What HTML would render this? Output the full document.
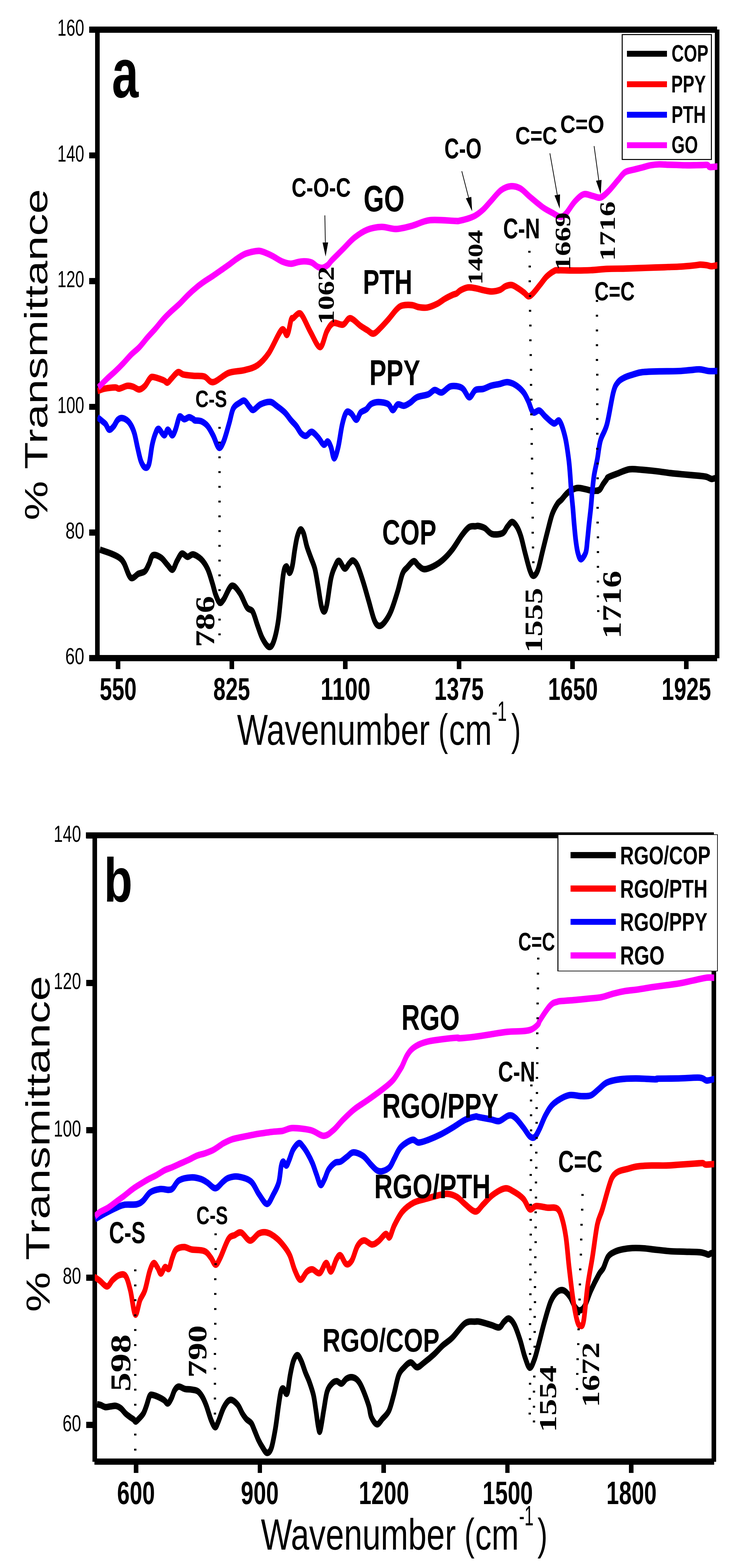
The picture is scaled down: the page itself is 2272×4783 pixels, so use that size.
<!DOCTYPE html><html><head><meta charset="utf-8"><style>html,body{margin:0;padding:0;background:#fff}svg{display:block}svg rect{shape-rendering:crispEdges}</style></head><body><svg width="2272" height="4783" viewBox="0 0 2272 4783"><defs><clipPath id="clipA"><rect x="297" y="0" width="1890.6" height="2100"/></clipPath><clipPath id="clipB"><rect x="289" y="2500" width="1889" height="2000"/></clipPath></defs><rect x="272.0" y="81.0" width="1915.0" height="19.0" fill="#000"/><rect x="290.2" y="81.0" width="13.9" height="1936.0" fill="#000"/><rect x="272.0" y="1998.2" width="1915.0" height="18.8" fill="#000"/><rect x="2180.3" y="89.6" width="13.7" height="1918.2" fill="#000"/><rect x="272.0" y="81.3" width="19.0" height="18.6" fill="#000"/><rect x="272.0" y="464.7" width="19.0" height="18.6" fill="#000"/><rect x="272.0" y="848.1" width="19.0" height="18.6" fill="#000"/><rect x="272.0" y="1231.5" width="19.0" height="18.6" fill="#000"/><rect x="272.0" y="1614.9" width="19.0" height="18.6" fill="#000"/><rect x="272.0" y="1998.3" width="19.0" height="18.6" fill="#000"/><rect x="353.0" y="2017.0" width="14.0" height="23.7" fill="#000"/><rect x="699.6" y="2017.0" width="14.0" height="23.7" fill="#000"/><rect x="1046.2" y="2017.0" width="14.0" height="23.7" fill="#000"/><rect x="1392.8" y="2017.0" width="14.0" height="23.7" fill="#000"/><rect x="1739.4" y="2017.0" width="14.0" height="23.7" fill="#000"/><rect x="2086.1" y="2017.0" width="14.0" height="23.7" fill="#000"/><rect x="262.0" y="2538.7" width="1915.0" height="18.3" fill="#000"/><rect x="282.4" y="2538.7" width="13.6" height="1920.1" fill="#000"/><rect x="288.0" y="4449.0" width="1890.0" height="18.9" fill="#000"/><rect x="2170.0" y="2548.0" width="14.0" height="1910.8" fill="#000"/><rect x="262.7" y="2539.0" width="20.3" height="19.0" fill="#000"/><rect x="262.7" y="2988.5" width="20.3" height="19.0" fill="#000"/><rect x="262.7" y="3438.0" width="20.3" height="19.0" fill="#000"/><rect x="262.7" y="3887.5" width="20.3" height="19.0" fill="#000"/><rect x="262.7" y="4337.0" width="20.3" height="19.0" fill="#000"/><rect x="408.0" y="4467.6" width="13.6" height="25.0" fill="#000"/><rect x="785.6" y="4467.6" width="13.6" height="25.0" fill="#000"/><rect x="1163.1" y="4467.6" width="13.6" height="25.0" fill="#000"/><rect x="1540.6" y="4467.6" width="13.6" height="25.0" fill="#000"/><rect x="1918.2" y="4467.6" width="13.6" height="25.0" fill="#000"/><g clip-path="url(#clipA)"><g transform="scale(1,1.4)"><path d="M304.7,1197.5 C310.4,1199.0 329.2,1203.3 339.0,1206.2 C348.8,1209.1 357.0,1211.5 363.5,1215.0 C370.0,1218.5 372.3,1219.9 378.2,1227.2 C384.1,1234.5 391.4,1255.0 398.8,1258.8 C406.2,1262.6 415.2,1252.3 422.4,1250.0 C429.6,1247.7 436.7,1248.2 442.0,1244.7 C447.3,1241.2 450.1,1234.8 454.2,1229.0 C458.3,1223.2 460.4,1212.0 466.5,1209.7 C472.6,1207.4 483.6,1211.5 491.0,1215.0 C498.4,1218.5 504.7,1226.3 510.6,1230.7 C516.5,1235.1 521.4,1242.7 526.3,1241.2 C531.2,1239.8 535.3,1227.8 540.0,1222.0 C544.7,1216.2 549.4,1207.7 554.7,1206.2 C560.0,1204.8 566.2,1212.9 571.9,1213.2 C577.6,1213.5 582.1,1207.1 589.0,1208.0 C595.9,1208.9 606.1,1213.3 613.5,1218.5 C620.9,1223.8 627.4,1230.8 633.1,1239.5 C638.8,1248.2 643.7,1261.7 647.8,1271.0 C651.9,1280.3 653.9,1288.5 657.6,1295.5 C661.3,1302.5 665.8,1311.3 669.9,1313.0 C674.0,1314.8 676.1,1312.1 682.2,1306.0 C688.3,1299.9 698.5,1278.6 706.7,1276.3 C714.9,1274.0 723.5,1284.1 731.2,1292.0 C739.0,1299.9 746.7,1316.8 753.2,1323.5 C759.7,1330.2 765.1,1325.9 770.4,1332.3 C775.7,1338.7 780.2,1352.4 785.1,1362.1 C790.0,1371.7 794.1,1382.2 799.8,1390.1 C805.5,1397.9 813.7,1407.8 819.4,1409.3 C825.1,1410.7 829.2,1408.4 834.1,1398.8 C839.0,1389.2 843.9,1375.8 848.8,1351.6 C853.7,1327.4 859.4,1273.1 863.5,1253.5 C867.6,1233.9 870.0,1235.1 873.3,1234.2 C876.6,1233.3 880.0,1248.5 883.1,1248.2 C886.2,1247.9 889.1,1241.0 891.7,1232.5 C894.4,1224.0 896.5,1208.0 899.0,1197.5 C901.5,1187.0 903.5,1176.8 906.4,1169.5 C909.3,1162.2 912.9,1154.9 916.2,1153.7 C919.5,1152.5 922.7,1156.4 926.0,1162.5 C929.3,1168.6 932.1,1181.8 935.8,1190.5 C939.5,1199.2 943.9,1206.8 948.0,1215.0 C952.1,1223.2 956.6,1229.0 960.3,1239.5 C964.0,1250.0 966.8,1264.6 970.1,1278.0 C973.4,1291.4 976.8,1311.0 979.9,1320.0 C983.0,1329.0 985.8,1332.9 988.7,1332.3 C991.6,1331.7 993.7,1328.5 997.1,1316.5 C1000.5,1304.5 1005.2,1274.2 1009.3,1260.5 C1013.4,1246.8 1017.5,1240.6 1021.6,1234.2 C1025.7,1227.8 1028.9,1221.2 1033.8,1222.0 C1038.7,1222.8 1045.7,1237.9 1051.0,1238.8 C1056.3,1239.7 1061.5,1230.1 1065.7,1227.2 C1070.0,1224.3 1072.4,1220.4 1076.5,1221.3 C1080.6,1222.2 1085.0,1224.8 1090.2,1232.5 C1095.4,1240.2 1101.7,1254.7 1107.4,1267.5 C1113.1,1280.3 1118.8,1295.5 1124.5,1309.5 C1130.2,1323.5 1136.4,1342.5 1141.7,1351.6 C1147.0,1360.6 1151.1,1363.2 1156.4,1363.8 C1161.7,1364.4 1167.4,1360.6 1173.5,1355.1 C1179.6,1349.5 1186.6,1341.6 1193.1,1330.5 C1199.6,1319.4 1207.0,1301.9 1212.7,1288.5 C1218.4,1275.1 1222.6,1258.8 1227.5,1250.0 C1232.4,1241.2 1236.5,1240.5 1242.2,1236.0 C1247.9,1231.5 1256.1,1223.3 1261.8,1222.7 C1267.5,1222.1 1271.2,1229.6 1276.5,1232.5 C1281.8,1235.4 1286.2,1239.9 1293.6,1240.2 C1300.9,1240.5 1311.2,1237.5 1320.6,1234.2 C1330.0,1230.9 1340.2,1226.3 1350.0,1220.2 C1359.8,1214.1 1369.6,1206.5 1379.4,1197.5 C1389.2,1188.5 1400.2,1174.2 1408.8,1166.0 C1417.4,1157.8 1424.0,1151.6 1430.9,1148.4 C1437.8,1145.2 1445.3,1147.1 1450.0,1146.7 C1454.7,1146.3 1454.1,1145.4 1458.8,1146.0 C1463.5,1146.6 1471.5,1147.7 1478.4,1150.6 C1485.4,1153.5 1491.5,1161.6 1500.5,1163.5 C1509.5,1165.4 1524.6,1164.4 1532.4,1161.8 C1540.2,1159.2 1542.2,1151.9 1547.1,1147.8 C1552.0,1143.7 1556.9,1137.3 1561.8,1137.3 C1566.7,1137.3 1572.0,1142.5 1576.5,1147.8 C1581.0,1153.0 1584.6,1159.5 1588.7,1168.8 C1592.8,1178.1 1596.5,1191.5 1601.0,1203.8 C1605.5,1216.0 1611.5,1233.8 1615.7,1242.3 C1620.0,1250.8 1622.4,1254.6 1626.5,1254.6 C1630.6,1254.6 1635.5,1251.3 1640.2,1242.3 C1644.9,1233.2 1650.0,1214.3 1654.9,1200.3 C1659.8,1186.3 1664.7,1171.7 1669.6,1158.3 C1674.5,1144.9 1679.2,1129.8 1684.3,1119.7 C1689.4,1109.6 1695.3,1102.7 1700.0,1097.6 C1704.7,1092.4 1708.3,1092.0 1712.4,1088.7 C1716.5,1085.5 1720.7,1081.2 1724.8,1078.1 C1728.9,1075.0 1732.1,1072.4 1737.3,1070.1 C1742.5,1067.7 1750.7,1065.0 1755.9,1063.9 C1761.1,1062.8 1763.1,1063.1 1768.3,1063.4 C1773.5,1063.8 1780.8,1065.1 1787.0,1066.1 C1793.2,1067.0 1799.8,1068.8 1805.6,1069.2 C1811.4,1069.7 1817.6,1069.4 1821.7,1068.8 C1825.8,1068.2 1827.5,1067.9 1830.4,1065.6 C1833.3,1063.3 1835.8,1058.6 1839.1,1055.0 C1842.4,1051.4 1847.4,1046.8 1850.0,1044.3 C1852.6,1041.8 1849.0,1042.1 1854.7,1039.9 C1860.4,1037.8 1873.3,1034.4 1884.1,1031.5 C1894.9,1028.6 1907.2,1023.8 1919.4,1022.5 C1931.7,1021.2 1943.9,1022.9 1957.6,1023.6 C1971.3,1024.3 1987.1,1025.5 2001.8,1026.7 C2016.5,1027.9 2031.2,1029.6 2045.9,1030.9 C2060.6,1032.1 2075.3,1033.0 2090.0,1034.0 C2104.7,1035.0 2123.3,1036.0 2134.1,1036.8 C2144.9,1037.6 2148.8,1037.7 2154.7,1038.9 C2160.6,1040.0 2165.0,1043.0 2169.4,1043.5 C2173.8,1044.0 2177.4,1042.2 2181.2,1042.0 C2185.0,1041.8 2190.2,1042.0 2192.0,1042.0" fill="none" stroke="#000000" stroke-width="14.2" stroke-linejoin="round" stroke-linecap="butt"/></g></g><g clip-path="url(#clipA)"><g transform="scale(1,1.4)"><path d="M297.4,852.1 C301.1,851.2 310.4,848.1 319.4,846.8 C328.4,845.5 343.9,844.2 351.3,844.2 C358.7,844.2 357.4,847.4 363.5,846.8 C369.6,846.2 381.1,841.4 388.0,840.7 C394.9,840.0 399.1,841.1 405.2,842.4 C411.3,843.7 418.7,848.9 424.8,848.6 C430.9,848.3 436.7,844.7 442.0,840.7 C447.3,836.8 452.6,828.1 456.7,824.9 C460.8,821.7 459.6,820.8 466.5,821.4 C473.4,822.0 490.9,826.4 498.3,828.4 C505.7,830.5 506.5,834.3 510.6,833.7 C514.7,833.1 517.5,828.7 522.8,824.9 C528.1,821.1 536.4,812.4 542.5,810.9 C548.6,809.5 551.7,814.8 559.6,816.1 C567.5,817.5 579.4,818.1 590.0,818.8 C600.6,819.5 613.2,818.0 623.3,820.4 C633.3,822.7 638.0,833.9 650.3,832.6 C662.6,831.4 681.0,817.0 696.9,812.6 C712.8,808.3 731.2,809.2 745.9,806.4 C760.6,803.6 772.9,802.0 785.1,795.9 C797.4,789.7 807.1,782.5 819.4,769.6 C831.6,756.8 849.2,725.6 858.6,718.9 C868.0,712.1 870.9,733.2 875.8,729.4 C880.7,725.6 885.0,702.1 888.0,696.1 C891.0,690.1 890.2,695.5 894.1,693.3 C898.0,691.1 906.4,683.4 911.3,682.8 C916.2,682.2 917.4,682.8 923.5,689.8 C929.6,696.8 939.2,713.7 948.0,724.8 C956.8,735.9 968.3,756.9 976.5,756.3 C984.7,755.7 990.4,730.0 997.1,721.3 C1003.8,712.5 1008.5,706.1 1016.7,703.8 C1024.9,701.5 1037.5,709.0 1046.1,707.3 C1054.7,705.5 1059.1,692.8 1068.1,693.3 C1077.1,693.8 1091.4,706.0 1100.0,710.3 C1108.6,714.6 1113.1,716.3 1119.6,719.1 C1126.1,721.8 1132.2,727.8 1139.2,726.9 C1146.2,726.0 1153.5,719.2 1161.3,713.8 C1169.1,708.4 1177.6,701.3 1185.8,694.6 C1194.0,687.9 1203.3,678.3 1210.3,673.5 C1217.2,668.7 1219.7,667.1 1227.5,665.6 C1235.3,664.2 1248.7,664.2 1256.9,664.8 C1265.1,665.4 1268.8,668.3 1276.5,669.1 C1284.2,670.0 1294.0,671.2 1303.4,670.0 C1312.8,668.8 1323.8,665.3 1332.8,662.1 C1341.8,658.9 1349.2,654.1 1357.4,650.8 C1365.6,647.4 1376.1,643.9 1381.9,642.0 C1387.8,640.1 1388.7,641.0 1392.5,639.4 C1396.3,637.8 1399.0,634.6 1404.7,632.4 C1410.4,630.2 1419.0,627.0 1426.8,626.3 C1434.6,625.6 1443.1,627.0 1451.3,628.1 C1459.5,629.1 1467.6,631.3 1475.8,632.4 C1484.0,633.6 1492.1,635.2 1500.3,635.1 C1508.5,634.9 1517.8,633.5 1524.8,631.6 C1531.8,629.7 1535.9,625.4 1542.0,623.6 C1548.1,621.9 1555.1,620.2 1561.6,621.1 C1568.1,622.0 1575.1,626.2 1581.2,628.9 C1587.3,631.7 1593.2,634.9 1598.3,637.6 C1603.4,640.4 1607.3,645.3 1611.8,645.6 C1616.3,645.9 1619.4,643.7 1625.3,639.4 C1631.2,635.2 1640.5,626.3 1647.4,620.1 C1654.4,614.0 1659.9,607.6 1667.0,602.6 C1674.1,597.7 1683.8,592.7 1690.0,590.4 C1696.2,588.1 1693.9,589.0 1704.5,588.9 C1715.1,588.7 1737.2,589.4 1753.5,589.4 C1769.8,589.3 1786.2,589.3 1802.5,588.7 C1818.8,588.1 1835.2,586.4 1851.6,585.9 C1867.9,585.3 1884.3,585.6 1900.6,585.4 C1916.9,585.1 1933.2,584.5 1949.6,584.1 C1966.0,583.7 1984.4,583.3 1999.2,582.9 C2014.0,582.6 2025.3,582.3 2038.4,581.9 C2051.5,581.6 2064.5,581.4 2077.6,580.8 C2090.7,580.2 2107.1,579.0 2116.9,578.3 C2126.7,577.6 2130.0,576.7 2136.5,576.6 C2143.0,576.6 2150.5,577.4 2156.1,578.0 C2161.7,578.6 2164.6,580.1 2169.8,580.1 C2175.0,580.1 2183.8,578.4 2187.5,578.0 C2191.2,577.6 2191.2,578.0 2192.0,578.0" fill="none" stroke="#ff0000" stroke-width="14.2" stroke-linejoin="round" stroke-linecap="butt"/></g></g><g clip-path="url(#clipA)"><g transform="scale(1,1.4)"><path d="M297.4,909.1 C299.8,910.5 308.0,915.4 312.1,917.9 C316.2,920.3 318.4,920.9 321.9,923.9 C325.4,927.0 328.8,935.3 332.9,936.2 C337.0,937.1 342.1,932.7 346.4,929.2 C350.7,925.7 354.5,918.3 358.6,915.2 C362.7,912.1 366.0,910.6 370.9,910.8 C375.8,910.9 383.1,913.3 388.0,916.1 C392.9,918.8 396.6,922.6 400.3,927.4 C404.0,932.2 406.8,936.8 410.1,944.9 C413.4,953.1 416.6,966.6 419.9,976.5 C423.2,986.4 426.0,997.5 429.7,1004.5 C433.4,1011.5 437.9,1017.3 442.0,1018.5 C446.1,1019.7 450.5,1019.7 454.2,1011.5 C457.9,1003.3 460.7,980.6 464.0,969.5 C467.3,958.4 470.5,950.8 473.8,944.9 C477.1,939.1 479.1,933.8 483.6,934.4 C488.1,935.0 496.1,948.1 500.8,948.4 C505.5,948.7 507.7,936.2 511.8,936.2 C515.9,936.2 521.4,948.4 525.3,948.4 C529.2,948.4 531.8,942.3 535.1,936.2 C538.4,930.1 542.5,916.5 544.9,911.7 C547.3,906.9 546.9,907.0 549.8,907.3 C552.7,907.6 557.6,913.1 562.1,913.4 C566.6,913.7 572.1,909.1 576.8,909.1 C581.4,909.1 587.1,912.3 590.0,913.4 C592.9,914.6 590.0,915.3 593.9,916.0 C597.8,916.7 607.0,915.7 613.5,917.7 C620.0,919.8 627.0,923.0 633.1,928.2 C639.2,933.5 644.6,941.3 650.3,949.2 C656.0,957.1 662.2,973.5 667.5,975.5 C672.8,977.5 676.9,970.5 682.2,961.5 C687.5,952.5 694.4,933.2 699.3,921.2 C704.2,909.2 706.3,897.0 711.6,889.7 C716.9,882.4 725.5,880.2 731.2,877.4 C736.9,874.7 741.0,871.8 745.9,873.2 C750.8,874.7 756.1,882.9 760.6,886.2 C765.1,889.5 767.1,894.1 772.8,893.2 C778.5,892.3 786.3,883.8 794.9,880.9 C803.5,878.0 816.1,875.1 824.3,875.7 C832.5,876.3 836.5,880.6 843.9,884.4 C851.2,888.2 861.0,893.2 868.4,898.4 C875.8,903.7 882.1,911.0 888.0,916.0 C893.9,921.0 898.8,923.8 903.9,928.6 C909.0,933.3 913.7,940.9 918.6,944.4 C923.5,947.9 928.0,950.2 933.3,949.6 C938.6,949.0 944.4,940.3 950.5,940.9 C956.6,941.4 964.0,948.4 970.1,953.1 C976.2,957.7 982.4,967.4 987.3,968.9 C992.2,970.3 995.8,961.0 999.5,961.9 C1003.2,962.7 1006.0,968.0 1009.3,974.1 C1012.6,980.2 1015.4,998.6 1019.1,998.6 C1022.8,998.6 1027.3,986.3 1031.4,974.1 C1035.5,961.8 1039.5,937.6 1043.6,925.1 C1047.7,912.5 1051.4,902.9 1055.9,898.8 C1060.4,894.7 1065.4,897.9 1070.6,900.6 C1075.8,903.2 1081.9,914.9 1086.8,914.6 C1091.7,914.3 1094.9,902.6 1100.0,898.8 C1105.1,895.0 1111.9,894.9 1117.2,891.8 C1122.5,888.7 1125.8,882.9 1131.9,880.3 C1138.0,877.7 1145.3,876.1 1153.9,876.1 C1162.5,876.1 1176.0,877.4 1183.3,880.3 C1190.6,883.2 1193.1,893.4 1198.0,893.6 C1202.9,893.7 1207.0,882.9 1212.7,881.3 C1218.4,879.7 1225.9,884.8 1232.4,884.1 C1239.0,883.3 1245.5,879.9 1252.0,876.8 C1258.5,873.7 1262.6,868.5 1271.6,865.6 C1280.6,862.6 1296.9,861.8 1305.9,859.2 C1314.9,856.6 1318.6,850.5 1325.5,849.8 C1332.4,849.1 1339.3,856.4 1347.5,855.1 C1355.7,853.7 1364.3,843.4 1374.5,841.7 C1384.7,840.1 1399.4,841.2 1408.8,845.2 C1418.2,849.2 1424.0,864.8 1430.9,865.6 C1437.8,866.3 1442.9,852.8 1450.0,849.8 C1457.1,846.8 1465.5,848.9 1473.5,847.4 C1481.5,845.8 1489.8,842.1 1498.0,840.4 C1506.2,838.6 1514.3,838.1 1522.5,836.9 C1530.7,835.6 1538.9,832.4 1547.1,832.6 C1555.3,832.9 1563.4,835.0 1571.6,838.6 C1579.8,842.2 1589.6,848.5 1596.1,854.4 C1602.6,860.2 1605.9,866.3 1610.8,873.6 C1615.7,880.9 1619.8,894.6 1625.5,898.1 C1631.2,901.7 1638.6,892.9 1645.1,894.6 C1651.6,896.4 1657.3,904.0 1664.7,908.6 C1672.1,913.3 1682.2,921.2 1689.2,922.6 C1696.2,924.1 1700.7,912.4 1706.4,917.4 C1712.1,922.3 1718.9,938.6 1723.5,952.4 C1728.1,966.1 1731.7,986.1 1734.2,1000.0 C1736.8,1013.9 1737.5,1023.7 1738.8,1035.5 C1740.1,1047.3 1740.8,1059.2 1742.2,1071.0 C1743.6,1082.8 1745.5,1094.6 1747.0,1106.4 C1748.5,1118.3 1749.5,1130.2 1751.0,1142.0 C1752.5,1153.8 1754.1,1167.1 1755.9,1177.4 C1757.8,1187.8 1759.5,1197.2 1762.1,1204.1 C1764.7,1210.9 1767.5,1218.6 1771.5,1218.6 C1775.5,1218.6 1783.0,1210.9 1786.3,1204.1 C1789.6,1197.2 1789.6,1187.8 1791.3,1177.4 C1793.0,1167.1 1794.5,1153.8 1796.3,1142.0 C1798.1,1130.2 1800.2,1118.3 1801.9,1106.4 C1803.6,1094.6 1804.6,1082.8 1806.2,1071.0 C1807.8,1059.2 1809.2,1047.3 1811.8,1035.5 C1814.4,1023.7 1818.4,1012.7 1821.7,1000.0 C1825.0,987.3 1826.5,972.0 1831.4,959.4 C1836.3,946.8 1844.5,941.9 1851.0,924.4 C1857.5,906.9 1864.9,869.7 1870.6,854.4 C1876.3,839.0 1879.3,837.8 1885.2,832.4 C1891.1,827.1 1898.2,825.0 1906.1,822.1 C1913.9,819.3 1923.6,817.4 1932.3,815.6 C1941.0,813.7 1945.3,812.0 1958.4,810.9 C1971.5,809.8 1993.3,809.4 2010.7,809.1 C2028.1,808.7 2047.8,809.1 2063.0,808.7 C2078.2,808.3 2090.4,807.3 2102.2,806.6 C2114.0,806.0 2123.6,804.5 2133.6,804.8 C2143.6,805.1 2153.5,807.9 2162.4,808.5 C2171.3,809.1 2182.3,808.3 2187.2,808.3 C2192.1,808.2 2191.2,808.3 2192.0,808.3" fill="none" stroke="#0000ff" stroke-width="14.2" stroke-linejoin="round" stroke-linecap="butt"/></g></g><g clip-path="url(#clipA)"><g transform="scale(1,1.4)"><path d="M299.8,844.2 C304.3,841.0 318.2,830.8 326.8,824.9 C335.4,819.1 343.1,814.7 351.3,809.1 C359.5,803.6 367.6,797.8 375.8,791.6 C384.0,785.5 392.1,778.3 400.3,772.4 C408.5,766.6 416.6,762.8 424.8,756.6 C433.0,750.5 441.1,742.4 449.3,735.6 C457.5,728.9 465.6,723.1 473.8,716.4 C482.0,709.6 490.1,701.8 498.3,695.4 C506.5,688.9 514.6,683.4 522.8,677.9 C531.0,672.3 538.8,668.1 547.4,662.1 C556.0,656.2 565.9,648.0 574.5,642.1 C583.1,636.1 590.8,631.2 599.0,626.4 C607.2,621.5 615.3,617.3 623.5,613.2 C631.7,609.1 639.8,605.7 648.0,601.8 C656.2,597.8 664.3,593.7 672.5,589.6 C680.7,585.5 688.9,581.5 697.1,577.3 C705.3,573.1 713.4,568.2 721.6,564.2 C729.8,560.3 737.9,556.3 746.1,553.6 C754.3,551.0 763.2,549.6 770.6,548.4 C778.0,547.3 784.1,546.4 790.2,546.6 C796.3,546.9 800.5,548.2 807.4,550.1 C814.3,552.0 823.2,554.9 831.9,558.1 C840.5,561.3 850.2,566.6 859.3,569.4 C868.4,572.1 878.1,574.3 886.3,574.6 C894.5,574.9 901.4,571.9 908.3,571.1 C915.2,570.2 920.9,569.2 927.9,569.4 C934.9,569.5 943.0,569.9 950.0,571.9 C957.0,574.0 963.9,579.7 969.6,581.6 C975.3,583.5 979.2,584.1 984.3,583.4 C989.4,582.6 995.4,579.9 1000.0,577.2 C1004.6,574.5 1004.1,573.0 1011.8,567.2 C1019.5,561.5 1034.7,550.9 1046.1,542.7 C1057.5,534.5 1068.2,525.2 1080.4,518.2 C1092.7,511.2 1105.7,504.7 1119.6,500.7 C1133.5,496.8 1149.0,494.7 1163.7,494.4 C1178.4,494.1 1192.3,499.3 1207.8,498.9 C1223.3,498.5 1239.7,495.1 1256.9,491.9 C1274.1,488.7 1288.8,481.5 1310.8,479.7 C1332.8,478.0 1374.3,481.2 1389.2,481.4 C1404.1,481.7 1394.1,481.8 1400.0,481.1 C1405.9,480.3 1416.3,478.7 1424.5,476.9 C1432.7,475.0 1440.8,473.2 1449.0,469.9 C1457.2,466.5 1465.3,462.0 1473.5,456.6 C1481.7,451.2 1489.0,444.4 1498.0,437.4 C1507.0,430.4 1517.7,419.8 1527.5,414.6 C1537.3,409.3 1547.1,406.5 1556.9,405.8 C1566.7,405.1 1576.5,406.6 1586.3,410.4 C1596.1,414.2 1604.3,421.7 1615.7,428.6 C1627.1,435.4 1643.5,445.5 1654.9,451.4 C1666.3,457.2 1675.3,460.1 1684.3,463.6 C1693.3,467.1 1701.8,472.1 1708.8,472.4 C1715.8,472.7 1718.7,470.9 1726.0,465.4 C1733.3,459.8 1743.9,446.1 1752.9,439.1 C1761.9,432.1 1770.9,425.3 1779.9,423.3 C1788.9,421.2 1798.3,425.6 1806.9,426.8 C1815.5,428.0 1823.2,432.1 1831.4,430.4 C1839.6,428.6 1846.9,422.7 1855.9,416.3 C1864.9,409.9 1876.9,398.6 1885.3,391.8 C1893.7,385.0 1898.3,379.0 1906.1,375.3 C1913.9,371.6 1923.6,371.4 1932.3,369.7 C1941.0,368.0 1949.7,366.6 1958.4,365.0 C1967.1,363.4 1975.9,361.1 1984.6,360.0 C1993.3,358.9 2002.0,358.3 2010.7,358.1 C2019.4,358.0 2028.2,358.6 2036.9,358.9 C2045.6,359.1 2054.3,359.2 2063.0,359.4 C2071.7,359.6 2080.5,360.0 2089.2,360.1 C2097.9,360.2 2106.6,360.1 2115.3,360.0 C2124.0,359.9 2134.4,359.7 2141.4,359.6 C2148.4,359.5 2153.6,358.8 2157.1,359.4 C2160.6,360.0 2160.7,362.6 2162.4,363.4 C2164.2,364.1 2163.5,364.2 2167.6,364.1 C2171.7,364.0 2183.3,363.0 2187.2,362.8 C2191.1,362.6 2190.4,362.8 2191.1,362.8" fill="none" stroke="#ff00ff" stroke-width="14.2" stroke-linejoin="round" stroke-linecap="butt"/></g></g><g clip-path="url(#clipB)"><g transform="scale(1,1.4)"><path d="M296.1,3059.7 C298.0,3060.0 302.9,3060.4 307.2,3061.4 C311.5,3062.5 316.6,3065.4 321.9,3065.9 C327.2,3066.3 333.7,3064.5 339.0,3064.1 C344.3,3063.6 348.8,3062.5 353.7,3063.2 C358.6,3063.9 363.5,3065.7 368.4,3068.4 C373.3,3071.2 378.6,3076.8 383.1,3079.9 C387.6,3082.9 391.3,3084.7 395.4,3086.9 C399.5,3089.0 404.5,3091.2 407.6,3092.9 C410.7,3094.7 411.3,3097.5 413.8,3097.4 C416.3,3097.2 418.5,3095.0 422.4,3092.1 C426.3,3089.2 433.0,3084.8 437.1,3079.9 C441.2,3074.9 443.6,3068.8 446.9,3062.4 C450.2,3055.9 453.4,3045.1 456.7,3041.3 C460.0,3037.5 461.6,3039.0 466.5,3039.6 C471.4,3040.2 480.4,3042.9 486.1,3044.8 C491.8,3046.7 496.5,3048.7 500.8,3050.9 C505.1,3053.1 508.1,3058.7 511.8,3057.9 C515.5,3057.2 519.3,3051.4 522.8,3046.6 C526.3,3041.8 528.9,3033.3 532.6,3029.1 C536.3,3024.8 539.6,3021.7 544.9,3021.2 C550.2,3020.8 558.6,3025.4 564.5,3026.4 C570.4,3027.4 573.7,3026.6 580.0,3027.3 C586.3,3028.0 596.0,3028.2 602.1,3030.8 C608.2,3033.4 612.3,3037.8 616.8,3043.1 C621.3,3048.3 624.5,3053.9 629.0,3062.4 C633.5,3070.8 639.2,3086.0 643.7,3093.9 C648.2,3101.7 652.3,3109.0 656.0,3109.6 C659.7,3110.2 661.3,3104.6 665.8,3097.4 C670.3,3090.1 676.8,3073.7 682.9,3065.9 C689.0,3058.0 695.5,3051.0 702.5,3050.1 C709.5,3049.2 718.5,3055.6 724.6,3060.6 C730.7,3065.5 734.8,3074.6 739.3,3079.9 C743.8,3085.1 747.1,3088.6 751.6,3092.1 C756.1,3095.6 762.2,3096.8 766.3,3100.9 C770.4,3104.9 772.4,3110.5 776.1,3116.6 C779.8,3122.7 784.2,3131.4 788.3,3137.6 C792.4,3143.7 796.3,3148.7 800.6,3153.4 C804.9,3158.0 809.6,3165.3 814.1,3165.6 C818.6,3165.9 823.2,3163.9 827.5,3155.1 C831.8,3146.4 836.1,3128.5 839.8,3113.1 C843.5,3097.6 846.7,3076.1 849.6,3062.4 C852.5,3048.6 854.5,3036.9 857.0,3030.8 C859.5,3024.7 861.8,3024.7 864.3,3025.6 C866.8,3026.5 869.5,3035.0 871.7,3036.1 C873.9,3037.2 875.2,3038.7 877.4,3032.2 C879.6,3025.7 881.9,3008.3 884.7,2997.2 C887.6,2986.1 890.8,2973.2 894.5,2965.7 C898.2,2958.3 902.7,2952.6 906.8,2952.6 C910.9,2952.6 914.9,2959.4 919.0,2965.7 C923.1,2972.0 927.2,2982.6 931.3,2990.2 C935.4,2997.8 939.4,3003.0 943.5,3011.2 C947.6,3019.4 952.5,3029.2 955.8,3039.2 C959.1,3049.2 960.6,3059.9 963.1,3071.4 C965.6,3083.0 968.4,3100.9 970.6,3108.6 C972.8,3116.2 973.7,3123.5 976.5,3117.3 C979.3,3111.1 984.1,3085.6 987.6,3071.4 C991.1,3057.2 993.4,3041.7 997.5,3032.2 C1001.6,3022.8 1007.3,3018.5 1012.2,3014.7 C1017.1,3010.9 1022.0,3009.4 1026.9,3009.4 C1031.8,3009.4 1036.7,3015.6 1041.6,3014.7 C1046.5,3013.8 1051.4,3006.5 1056.3,3004.2 C1061.2,3001.9 1066.1,3000.7 1071.0,3000.7 C1075.9,3000.7 1081.2,3001.9 1085.7,3004.2 C1090.2,3006.5 1093.8,3009.8 1097.9,3014.7 C1102.0,3019.7 1105.7,3025.8 1110.2,3033.9 C1114.7,3042.1 1121.2,3054.8 1124.9,3063.7 C1128.6,3072.6 1128.3,3080.9 1132.4,3087.5 C1136.5,3094.1 1143.8,3102.7 1149.5,3103.3 C1155.2,3103.9 1160.6,3096.0 1166.7,3091.1 C1172.8,3086.1 1180.6,3082.3 1186.3,3073.5 C1192.0,3064.7 1196.1,3051.3 1201.0,3038.5 C1205.9,3025.7 1210.4,3006.4 1215.7,2996.5 C1221.0,2986.6 1226.7,2983.7 1232.8,2979.0 C1238.9,2974.3 1246.0,2968.5 1252.5,2968.5 C1259.0,2968.5 1265.2,2979.0 1272.1,2979.0 C1279.0,2979.0 1285.5,2973.2 1294.1,2968.5 C1302.7,2963.8 1314.2,2957.1 1323.5,2951.0 C1332.8,2944.9 1340.7,2937.8 1350.0,2931.7 C1359.3,2925.6 1368.0,2922.7 1379.4,2914.6 C1390.8,2906.5 1406.8,2888.9 1418.6,2883.1 C1430.4,2877.2 1442.5,2880.1 1450.0,2879.6 C1457.5,2879.0 1455.7,2878.7 1463.7,2879.9 C1471.7,2881.2 1488.2,2884.9 1498.0,2886.9 C1507.8,2889.0 1516.0,2893.3 1522.5,2892.1 C1529.0,2891.0 1532.4,2883.1 1537.3,2879.9 C1542.2,2876.7 1546.7,2871.8 1552.0,2872.9 C1557.3,2874.1 1563.4,2879.1 1569.1,2886.9 C1574.8,2894.8 1581.0,2908.4 1586.3,2920.1 C1591.6,2931.9 1596.1,2947.3 1601.0,2957.3 C1605.9,2967.3 1610.8,2979.5 1615.7,2980.1 C1620.6,2980.7 1625.5,2970.4 1630.4,2960.8 C1635.3,2951.2 1640.2,2935.5 1645.1,2922.3 C1650.0,2909.1 1654.1,2896.0 1659.8,2881.6 C1665.5,2867.3 1672.9,2847.2 1679.4,2836.1 C1685.9,2825.1 1692.5,2819.2 1699.0,2815.1 C1705.5,2811.1 1712.1,2809.9 1718.6,2811.6 C1725.1,2813.4 1732.5,2819.8 1738.2,2825.6 C1743.9,2831.5 1748.2,2841.7 1752.9,2846.6 C1757.7,2851.6 1761.8,2855.4 1766.7,2855.4 C1771.6,2855.4 1776.5,2853.9 1782.4,2846.6 C1788.3,2839.4 1794.7,2823.3 1802.0,2811.6 C1809.3,2800.0 1820.2,2784.8 1826.5,2776.6 C1832.8,2768.5 1835.3,2769.5 1840.0,2763.0 C1844.7,2756.5 1848.8,2743.7 1854.7,2737.8 C1860.6,2731.8 1868.0,2729.9 1875.3,2727.3 C1882.6,2724.7 1890.0,2723.4 1898.8,2722.1 C1907.6,2720.8 1917.4,2719.7 1928.2,2719.4 C1939.0,2719.0 1951.2,2719.3 1963.5,2719.9 C1975.8,2720.6 1988.1,2722.1 2001.8,2723.1 C2015.5,2724.2 2031.2,2725.6 2045.9,2726.3 C2060.6,2727.0 2075.3,2726.9 2090.0,2727.3 C2104.7,2727.6 2123.8,2727.7 2134.1,2728.4 C2144.4,2729.1 2147.4,2730.6 2151.8,2731.5 C2156.2,2732.4 2157.7,2733.8 2160.6,2733.6 C2163.5,2733.5 2165.3,2731.0 2169.4,2730.4 C2173.5,2729.9 2182.4,2730.4 2185.0,2730.4" fill="none" stroke="#000000" stroke-width="14.2" stroke-linejoin="round" stroke-linecap="butt"/></g></g><g clip-path="url(#clipB)"><g transform="scale(1,1.4)"><path d="M287.4,2781.9 C290.2,2783.3 298.0,2787.1 304.5,2790.6 C311.0,2794.1 320.1,2803.2 326.6,2802.9 C333.1,2802.6 337.6,2792.9 343.7,2788.9 C349.8,2784.8 356.8,2779.8 363.3,2778.4 C369.8,2776.9 377.2,2774.6 382.9,2780.1 C388.6,2785.7 392.7,2797.6 397.6,2811.6 C402.5,2825.6 407.5,2860.6 412.4,2864.1 C417.3,2867.6 422.2,2841.4 427.1,2832.6 C432.0,2823.9 436.9,2822.1 441.8,2811.6 C446.7,2801.1 452.0,2779.6 456.5,2769.6 C461.0,2759.7 464.6,2753.3 468.7,2752.1 C472.8,2750.9 477.3,2758.8 481.0,2762.6 C484.7,2766.4 487.1,2775.1 490.8,2774.9 C494.5,2774.6 498.9,2762.6 503.0,2760.9 C507.1,2759.1 511.6,2767.6 515.3,2764.4 C519.0,2761.1 521.4,2748.6 525.1,2741.6 C528.8,2734.6 531.3,2726.4 537.4,2722.4 C543.5,2718.3 554.1,2717.1 561.9,2717.1 C569.6,2717.1 573.7,2720.9 583.9,2722.4 C594.1,2723.8 613.3,2722.9 623.1,2725.9 C632.9,2728.8 637.0,2734.9 642.7,2739.9 C648.4,2744.8 652.6,2755.6 657.5,2755.6 C662.4,2755.6 665.7,2749.2 672.2,2739.9 C678.7,2730.5 689.4,2707.7 696.7,2699.6 C704.1,2691.4 709.8,2693.2 716.3,2690.9 C722.8,2688.5 728.1,2683.5 735.9,2685.6 C743.6,2687.6 753.8,2702.8 762.8,2703.1 C771.8,2703.4 781.2,2690.3 789.8,2687.4 C798.4,2684.4 805.3,2683.8 814.3,2685.6 C823.3,2687.3 834.7,2692.6 843.7,2697.9 C852.7,2703.1 861.4,2710.7 868.2,2717.1 C875.0,2723.4 879.2,2727.6 884.3,2736.0 C889.4,2744.4 893.7,2758.8 899.0,2767.5 C904.3,2776.2 910.1,2787.9 916.2,2788.5 C922.3,2789.1 929.7,2774.8 935.8,2771.0 C941.9,2767.2 946.4,2765.3 952.9,2765.8 C959.4,2766.2 968.0,2776.1 975.0,2773.8 C982.0,2771.5 988.9,2752.4 994.6,2751.8 C1000.3,2751.2 1004.0,2771.8 1009.3,2770.3 C1014.6,2768.8 1021.6,2748.8 1026.5,2743.0 C1031.4,2737.2 1033.8,2733.4 1038.7,2735.3 C1043.6,2737.2 1050.2,2752.3 1055.9,2754.2 C1061.6,2756.1 1067.3,2753.0 1073.0,2746.5 C1078.7,2740.0 1084.1,2722.3 1090.2,2715.0 C1096.3,2707.7 1102.5,2703.3 1109.8,2702.7 C1117.1,2702.1 1126.9,2711.2 1134.3,2711.5 C1141.7,2711.8 1147.0,2708.3 1153.9,2704.5 C1160.9,2700.7 1170.3,2690.2 1176.0,2688.7 C1181.7,2687.2 1183.7,2698.9 1188.2,2695.7 C1192.7,2692.5 1196.4,2678.8 1202.9,2669.5 C1209.5,2660.2 1217.7,2647.9 1227.5,2639.7 C1237.3,2631.5 1249.5,2625.1 1261.8,2620.4 C1274.0,2615.8 1288.8,2614.3 1301.0,2611.7 C1313.2,2609.1 1324.7,2606.5 1335.3,2604.7 C1345.9,2603.0 1354.9,2600.6 1364.7,2601.2 C1374.5,2601.8 1385.1,2604.4 1394.1,2608.2 C1403.1,2612.0 1409.3,2618.7 1418.6,2623.9 C1427.9,2629.2 1440.8,2639.7 1450.0,2639.7 C1459.2,2639.8 1464.7,2630.4 1473.5,2624.3 C1482.3,2618.2 1491.9,2609.1 1502.9,2603.3 C1513.9,2597.5 1529.1,2590.5 1539.7,2589.3 C1550.3,2588.1 1557.3,2592.5 1566.7,2596.3 C1576.1,2600.1 1587.9,2605.7 1596.1,2612.1 C1604.3,2618.5 1609.2,2632.2 1615.7,2634.8 C1622.2,2637.4 1626.3,2628.4 1635.3,2627.8 C1644.3,2627.2 1659.0,2630.4 1669.6,2631.3 C1680.2,2632.2 1691.7,2629.3 1699.0,2633.1 C1706.3,2636.9 1709.2,2643.6 1713.7,2654.1 C1718.2,2664.6 1722.3,2678.0 1726.0,2696.1 C1729.7,2714.2 1732.1,2739.8 1735.8,2762.6 C1739.5,2785.3 1743.9,2813.4 1748.0,2832.6 C1752.1,2851.9 1756.6,2868.8 1760.3,2878.1 C1764.0,2887.5 1766.8,2888.6 1770.1,2888.6 C1773.4,2888.6 1776.2,2892.7 1779.9,2878.1 C1783.6,2863.6 1787.7,2824.5 1792.2,2801.1 C1796.7,2777.8 1802.0,2760.3 1806.9,2738.1 C1811.8,2715.9 1816.7,2685.0 1821.6,2668.1 C1826.5,2651.2 1830.3,2650.7 1836.3,2636.6 C1842.3,2622.5 1852.1,2595.9 1857.6,2583.6 C1863.1,2571.2 1864.5,2567.8 1869.4,2562.6 C1874.3,2557.3 1879.8,2554.7 1887.1,2552.1 C1894.4,2549.5 1904.2,2548.6 1913.5,2546.9 C1922.8,2545.1 1930.7,2542.8 1943.0,2541.6 C1955.3,2540.3 1972.4,2539.8 1987.1,2539.5 C2001.8,2539.2 2016.5,2539.8 2031.2,2539.5 C2045.9,2539.2 2060.6,2538.1 2075.3,2537.4 C2090.0,2536.7 2108.1,2535.8 2119.4,2535.3 C2130.7,2534.8 2137.5,2533.9 2142.9,2534.2 C2148.3,2534.6 2146.4,2537.1 2151.8,2537.4 C2157.2,2537.8 2169.8,2536.5 2175.3,2536.4 C2180.8,2536.2 2183.4,2536.4 2185.0,2536.4" fill="none" stroke="#ff0000" stroke-width="14.2" stroke-linejoin="round" stroke-linecap="butt"/></g></g><g clip-path="url(#clipB)"><g transform="scale(1,1.4)"><path d="M289.8,2656.5 C294.7,2654.5 307.8,2648.7 319.2,2644.3 C330.6,2639.9 348.3,2633.5 358.4,2630.3 C368.5,2627.1 370.3,2626.0 380.0,2624.9 C389.7,2623.9 407.4,2625.5 416.8,2624.0 C426.2,2622.5 429.5,2620.5 436.4,2616.1 C443.3,2611.8 449.8,2602.0 458.4,2597.8 C467.0,2593.6 478.4,2591.7 487.8,2590.8 C497.2,2589.9 508.2,2592.8 514.8,2592.5 C521.3,2592.2 521.8,2592.5 527.1,2589.0 C532.4,2585.5 537.3,2575.4 546.7,2571.5 C556.1,2567.6 572.4,2565.8 583.4,2565.4 C594.4,2564.9 604.6,2567.0 612.8,2568.9 C621.0,2570.8 625.1,2573.4 632.5,2576.8 C639.9,2580.1 649.1,2589.3 657.0,2589.0 C664.9,2588.7 673.4,2578.8 680.0,2575.0 C686.6,2571.2 689.0,2568.4 696.7,2566.5 C704.4,2564.6 714.7,2562.4 726.1,2563.7 C737.5,2565.0 754.7,2567.8 765.3,2574.2 C775.9,2580.6 781.6,2594.0 789.8,2602.2 C798.0,2610.4 806.9,2623.2 814.3,2623.2 C821.6,2623.2 827.9,2610.0 833.9,2602.2 C839.9,2594.4 846.1,2586.6 850.0,2576.5 C853.9,2566.4 855.1,2549.0 857.4,2541.4 C859.6,2533.8 860.9,2531.2 863.5,2530.9 C866.1,2530.6 870.2,2540.3 873.3,2539.7 C876.4,2539.1 878.4,2533.3 881.9,2527.4 C885.4,2521.6 889.2,2510.8 894.1,2504.7 C899.0,2498.6 906.4,2491.9 911.3,2490.7 C916.2,2489.5 919.0,2493.9 923.5,2497.7 C928.0,2501.5 933.3,2507.3 938.2,2513.4 C943.1,2519.5 948.4,2526.8 952.9,2534.4 C957.4,2542.0 961.1,2551.0 965.2,2558.9 C969.3,2566.8 973.4,2580.0 977.5,2581.7 C981.6,2583.5 985.6,2575.0 989.7,2569.5 C993.8,2564.0 996.7,2554.4 1002.0,2548.4 C1007.3,2542.4 1015.5,2536.5 1021.6,2533.6 C1027.7,2530.7 1032.6,2533.1 1038.7,2530.9 C1044.8,2528.7 1051.8,2523.8 1058.3,2520.4 C1064.8,2517.1 1069.7,2511.1 1077.9,2510.8 C1086.1,2510.5 1098.4,2514.2 1107.4,2518.7 C1116.4,2523.2 1124.8,2532.7 1131.9,2537.9 C1139.0,2543.2 1144.3,2547.9 1150.0,2550.2 C1155.7,2552.5 1159.8,2553.0 1166.2,2551.8 C1172.6,2550.6 1182.1,2547.7 1188.2,2543.1 C1194.3,2538.4 1197.2,2531.1 1202.9,2523.8 C1208.6,2516.5 1213.5,2506.0 1222.5,2499.3 C1231.5,2492.6 1247.9,2485.2 1256.9,2483.6 C1265.9,2481.9 1268.3,2489.5 1276.5,2489.5 C1284.7,2489.5 1294.5,2486.6 1305.9,2483.6 C1317.3,2480.5 1332.8,2475.7 1345.1,2471.3 C1357.3,2466.9 1367.2,2462.5 1379.4,2457.3 C1391.7,2452.0 1406.8,2443.9 1418.6,2439.8 C1430.4,2435.7 1443.3,2433.8 1450.0,2432.8 C1456.7,2431.8 1450.8,2432.8 1458.8,2433.9 C1466.8,2434.9 1487.4,2437.6 1498.0,2439.1 C1508.6,2440.5 1513.5,2444.0 1522.5,2442.6 C1531.5,2441.1 1543.8,2431.5 1552.0,2430.4 C1560.2,2429.2 1564.2,2431.2 1571.6,2435.6 C1578.9,2439.9 1588.8,2449.9 1596.1,2456.6 C1603.4,2463.3 1610.0,2472.4 1615.7,2475.9 C1621.4,2479.4 1625.5,2480.2 1630.4,2477.6 C1635.3,2474.9 1639.4,2468.2 1645.1,2460.1 C1650.8,2451.9 1657.3,2437.9 1664.7,2428.6 C1672.1,2419.2 1677.8,2411.1 1689.2,2404.1 C1700.6,2397.1 1719.4,2389.2 1733.3,2386.6 C1747.2,2383.9 1761.0,2388.3 1772.5,2388.3 C1784.0,2388.3 1793.0,2389.2 1802.0,2386.6 C1811.0,2384.0 1818.3,2377.2 1826.5,2372.6 C1834.7,2367.9 1840.4,2362.1 1851.0,2358.6 C1861.6,2355.1 1875.5,2353.0 1890.2,2351.6 C1904.9,2350.1 1920.9,2349.8 1939.2,2349.8 C1957.5,2349.8 1988.9,2351.5 2000.0,2351.6 C2011.1,2351.7 1994.2,2350.6 2005.9,2350.3 C2017.6,2350.0 2048.6,2350.1 2069.9,2349.7 C2091.2,2349.4 2119.6,2347.4 2133.8,2348.1 C2148.0,2348.9 2148.1,2353.8 2155.2,2354.3 C2162.3,2354.8 2172.2,2351.7 2176.5,2351.2 C2180.8,2350.7 2180.0,2351.2 2180.7,2351.2" fill="none" stroke="#0000ff" stroke-width="14.2" stroke-linejoin="round" stroke-linecap="butt"/></g></g><g clip-path="url(#clipB)"><g transform="scale(1,1.4)"><path d="M289.8,2650.2 C292.2,2648.7 298.0,2644.0 304.5,2640.9 C311.0,2637.8 320.8,2635.3 329.0,2631.6 C337.2,2627.9 345.0,2623.2 353.5,2618.7 C362.0,2614.2 371.5,2609.4 380.0,2604.8 C388.5,2600.1 396.3,2595.0 404.5,2590.8 C412.7,2586.5 420.8,2583.0 429.0,2579.4 C437.2,2575.7 445.3,2572.1 453.5,2568.9 C461.7,2565.7 469.8,2563.3 478.0,2560.1 C486.2,2556.9 494.3,2552.6 502.5,2549.6 C510.7,2546.7 518.9,2545.1 527.1,2542.6 C535.3,2540.2 543.4,2537.3 551.6,2534.7 C559.8,2532.1 567.9,2529.6 576.1,2526.9 C584.3,2524.1 592.4,2520.4 600.6,2518.1 C608.8,2515.7 616.9,2514.9 625.1,2512.9 C633.3,2510.8 641.4,2508.9 649.6,2505.9 C657.8,2502.8 668.6,2497.0 674.1,2494.5 C679.6,2492.0 677.0,2492.5 682.5,2490.6 C688.0,2488.6 698.9,2484.7 707.1,2482.6 C715.3,2480.6 723.4,2479.6 731.6,2478.3 C739.8,2477.0 747.9,2476.0 756.1,2474.8 C764.3,2473.6 772.4,2472.3 780.6,2471.3 C788.8,2470.3 796.9,2469.5 805.1,2468.6 C813.3,2467.8 820.5,2466.8 829.6,2466.1 C838.8,2465.3 853.3,2464.9 860.0,2464.3 C866.7,2463.6 864.3,2463.2 870.0,2462.1 C875.7,2461.1 881.1,2457.8 894.1,2457.9 C907.1,2457.9 932.5,2459.7 948.0,2462.5 C963.5,2465.3 975.8,2474.8 987.3,2474.8 C998.8,2474.8 1006.9,2468.3 1016.7,2462.5 C1026.5,2456.7 1035.5,2447.4 1046.1,2439.8 C1056.7,2432.2 1068.2,2424.0 1080.4,2417.0 C1092.7,2410.0 1105.7,2404.8 1119.6,2397.8 C1133.5,2390.8 1150.6,2382.3 1163.7,2375.0 C1176.8,2367.7 1188.2,2361.9 1198.0,2354.0 C1207.8,2346.1 1217.4,2333.4 1222.5,2327.7 C1227.6,2322.0 1225.4,2324.2 1228.4,2319.6 C1231.4,2315.1 1236.2,2306.0 1240.7,2300.4 C1245.2,2294.9 1249.3,2290.5 1255.4,2286.4 C1261.5,2282.3 1268.9,2278.8 1277.5,2275.9 C1286.1,2273.0 1295.5,2270.8 1306.9,2268.9 C1318.3,2267.0 1331.4,2265.8 1346.1,2264.5 C1360.8,2263.2 1386.1,2261.4 1395.1,2261.0 C1404.1,2260.6 1391.0,2262.7 1400.0,2262.3 C1409.0,2261.9 1432.7,2260.3 1449.0,2258.8 C1465.3,2257.3 1481.7,2255.3 1498.0,2253.5 C1514.3,2251.7 1530.8,2249.4 1547.1,2248.2 C1563.4,2247.0 1583.8,2247.4 1596.1,2246.5 C1608.3,2245.6 1613.2,2245.3 1620.6,2243.0 C1627.9,2240.7 1635.8,2235.9 1640.2,2232.5 C1644.6,2229.1 1641.8,2228.7 1647.0,2222.6 C1652.2,2216.6 1665.0,2202.5 1671.6,2196.4 C1678.1,2190.2 1681.7,2188.1 1686.3,2185.9 C1690.9,2183.6 1695.3,2183.5 1699.0,2182.8 C1702.7,2182.0 1700.0,2182.0 1708.3,2181.4 C1716.6,2180.8 1734.0,2180.1 1749.0,2179.1 C1764.0,2178.2 1783.7,2176.7 1798.0,2175.6 C1812.3,2174.6 1822.5,2174.5 1834.8,2172.6 C1847.1,2170.8 1859.3,2167.0 1871.6,2164.8 C1883.8,2162.5 1896.0,2160.6 1908.3,2159.1 C1920.5,2157.7 1931.3,2157.4 1945.1,2156.0 C1958.8,2154.6 1976.4,2152.2 1990.8,2150.6 C2005.2,2149.1 2018.1,2148.1 2031.7,2146.7 C2045.3,2145.4 2058.9,2144.3 2072.5,2142.6 C2086.1,2140.9 2099.8,2138.5 2113.4,2136.4 C2127.0,2134.4 2143.6,2131.2 2154.2,2130.2 C2164.8,2129.2 2171.6,2130.3 2176.7,2130.4 C2181.8,2130.4 2183.6,2130.4 2185.0,2130.4" fill="none" stroke="#ff00ff" stroke-width="14.2" stroke-linejoin="round" stroke-linecap="butt"/></g></g><rect x="666.0" y="1302.0" width="7.0" height="6.0" fill="#000"/><rect x="666.0" y="1347.0" width="7.0" height="6.0" fill="#000"/><rect x="666.0" y="1392.0" width="7.0" height="6.0" fill="#000"/><rect x="666.0" y="1437.0" width="7.0" height="6.0" fill="#000"/><rect x="666.0" y="1482.0" width="7.0" height="6.0" fill="#000"/><rect x="666.0" y="1527.0" width="7.0" height="6.0" fill="#000"/><rect x="666.0" y="1572.0" width="7.0" height="6.0" fill="#000"/><rect x="666.0" y="1617.0" width="7.0" height="6.0" fill="#000"/><rect x="666.0" y="1662.0" width="7.0" height="6.0" fill="#000"/><rect x="666.0" y="1707.0" width="7.0" height="6.0" fill="#000"/><rect x="666.0" y="1752.0" width="7.0" height="6.0" fill="#000"/><rect x="666.0" y="1797.0" width="7.0" height="6.0" fill="#000"/><rect x="666.0" y="1842.0" width="7.0" height="6.0" fill="#000"/><rect x="666.0" y="1887.0" width="7.0" height="6.0" fill="#000"/><rect x="666.0" y="1932.0" width="7.0" height="6.0" fill="#000"/><rect x="1611.2" y="764.6" width="7.0" height="6.0" fill="#000"/><rect x="1611.7" y="809.7" width="7.0" height="6.0" fill="#000"/><rect x="1612.3" y="854.8" width="7.0" height="6.0" fill="#000"/><rect x="1612.8" y="899.9" width="7.0" height="6.0" fill="#000"/><rect x="1613.4" y="945.0" width="7.0" height="6.0" fill="#000"/><rect x="1613.9" y="990.1" width="7.0" height="6.0" fill="#000"/><rect x="1614.4" y="1035.2" width="7.0" height="6.0" fill="#000"/><rect x="1615.0" y="1080.3" width="7.0" height="6.0" fill="#000"/><rect x="1615.5" y="1125.4" width="7.0" height="6.0" fill="#000"/><rect x="1616.0" y="1170.5" width="7.0" height="6.0" fill="#000"/><rect x="1616.6" y="1215.6" width="7.0" height="6.0" fill="#000"/><rect x="1617.1" y="1260.7" width="7.0" height="6.0" fill="#000"/><rect x="1617.7" y="1305.8" width="7.0" height="6.0" fill="#000"/><rect x="1618.2" y="1350.9" width="7.0" height="6.0" fill="#000"/><rect x="1618.7" y="1396.0" width="7.0" height="6.0" fill="#000"/><rect x="1619.3" y="1441.1" width="7.0" height="6.0" fill="#000"/><rect x="1619.8" y="1486.2" width="7.0" height="6.0" fill="#000"/><rect x="1620.3" y="1531.3" width="7.0" height="6.0" fill="#000"/><rect x="1620.9" y="1576.4" width="7.0" height="6.0" fill="#000"/><rect x="1621.4" y="1621.5" width="7.0" height="6.0" fill="#000"/><rect x="1622.0" y="1666.6" width="7.0" height="6.0" fill="#000"/><rect x="1622.5" y="1711.7" width="7.0" height="6.0" fill="#000"/><rect x="1816.5" y="915.0" width="7.0" height="6.0" fill="#000"/><rect x="1816.7" y="960.0" width="7.0" height="6.0" fill="#000"/><rect x="1816.9" y="1005.1" width="7.0" height="6.0" fill="#000"/><rect x="1817.1" y="1050.1" width="7.0" height="6.0" fill="#000"/><rect x="1817.3" y="1095.2" width="7.0" height="6.0" fill="#000"/><rect x="1817.5" y="1140.2" width="7.0" height="6.0" fill="#000"/><rect x="1817.6" y="1185.3" width="7.0" height="6.0" fill="#000"/><rect x="1817.8" y="1230.3" width="7.0" height="6.0" fill="#000"/><rect x="1818.0" y="1275.4" width="7.0" height="6.0" fill="#000"/><rect x="1818.2" y="1320.4" width="7.0" height="6.0" fill="#000"/><rect x="1818.4" y="1365.5" width="7.0" height="6.0" fill="#000"/><rect x="1818.6" y="1410.5" width="7.0" height="6.0" fill="#000"/><rect x="1818.8" y="1455.6" width="7.0" height="6.0" fill="#000"/><rect x="1819.0" y="1500.6" width="7.0" height="6.0" fill="#000"/><rect x="1819.2" y="1545.7" width="7.0" height="6.0" fill="#000"/><rect x="1819.4" y="1590.7" width="7.0" height="6.0" fill="#000"/><rect x="1819.5" y="1635.8" width="7.0" height="6.0" fill="#000"/><rect x="1819.7" y="1680.8" width="7.0" height="6.0" fill="#000"/><rect x="1819.9" y="1725.9" width="7.0" height="6.0" fill="#000"/><rect x="1820.1" y="1770.9" width="7.0" height="6.0" fill="#000"/><rect x="1820.3" y="1816.0" width="7.0" height="6.0" fill="#000"/><rect x="1820.5" y="1861.0" width="7.0" height="6.0" fill="#000"/><line x1="990.7" y1="657.0" x2="992.2" y2="739.5" stroke="#000" stroke-width="2.2"/><polygon points="993.0,782.5 983.7,739.7 1000.7,739.4" fill="#000"/><line x1="1408.3" y1="522.3" x2="1429.1" y2="602.8" stroke="#000" stroke-width="2.2"/><polygon points="1439.8,644.4 1420.8,604.9 1437.3,600.6" fill="#000"/><line x1="1677.0" y1="467.6" x2="1699.5" y2="594.5" stroke="#000" stroke-width="2.2"/><polygon points="1707.0,636.8 1691.1,595.9 1707.9,593.0" fill="#000"/><line x1="1811.8" y1="445.6" x2="1826.1" y2="550.0" stroke="#000" stroke-width="2.2"/><polygon points="1832.0,592.6 1817.7,551.2 1834.6,548.8" fill="#000"/><rect x="408.9" y="3872.0" width="7.0" height="6.0" fill="#000"/><rect x="408.9" y="3917.6" width="7.0" height="6.0" fill="#000"/><rect x="408.9" y="3963.1" width="7.0" height="6.0" fill="#000"/><rect x="408.9" y="4008.7" width="7.0" height="6.0" fill="#000"/><rect x="408.9" y="4054.2" width="7.0" height="6.0" fill="#000"/><rect x="408.9" y="4099.8" width="7.0" height="6.0" fill="#000"/><rect x="408.9" y="4145.3" width="7.0" height="6.0" fill="#000"/><rect x="408.9" y="4190.9" width="7.0" height="6.0" fill="#000"/><rect x="408.9" y="4236.4" width="7.0" height="6.0" fill="#000"/><rect x="408.9" y="4282.0" width="7.0" height="6.0" fill="#000"/><rect x="408.9" y="4327.5" width="7.0" height="6.0" fill="#000"/><rect x="408.9" y="4373.1" width="7.0" height="6.0" fill="#000"/><rect x="408.9" y="4418.6" width="7.0" height="6.0" fill="#000"/><rect x="654.0" y="3761.7" width="7.0" height="6.0" fill="#000"/><rect x="653.8" y="3807.3" width="7.0" height="6.0" fill="#000"/><rect x="653.6" y="3852.9" width="7.0" height="6.0" fill="#000"/><rect x="653.4" y="3898.5" width="7.0" height="6.0" fill="#000"/><rect x="653.2" y="3944.1" width="7.0" height="6.0" fill="#000"/><rect x="653.0" y="3989.7" width="7.0" height="6.0" fill="#000"/><rect x="652.8" y="4035.3" width="7.0" height="6.0" fill="#000"/><rect x="652.5" y="4081.0" width="7.0" height="6.0" fill="#000"/><rect x="652.3" y="4126.6" width="7.0" height="6.0" fill="#000"/><rect x="652.1" y="4172.2" width="7.0" height="6.0" fill="#000"/><rect x="651.9" y="4217.8" width="7.0" height="6.0" fill="#000"/><rect x="651.7" y="4263.4" width="7.0" height="6.0" fill="#000"/><rect x="651.5" y="4309.0" width="7.0" height="6.0" fill="#000"/><rect x="1637.5" y="2921.0" width="7.0" height="6.0" fill="#000"/><rect x="1637.1" y="2966.5" width="7.0" height="6.0" fill="#000"/><rect x="1636.7" y="3012.1" width="7.0" height="6.0" fill="#000"/><rect x="1636.2" y="3057.6" width="7.0" height="6.0" fill="#000"/><rect x="1635.8" y="3103.2" width="7.0" height="6.0" fill="#000"/><rect x="1635.4" y="3148.7" width="7.0" height="6.0" fill="#000"/><rect x="1635.0" y="3194.3" width="7.0" height="6.0" fill="#000"/><rect x="1634.6" y="3239.8" width="7.0" height="6.0" fill="#000"/><rect x="1634.1" y="3285.4" width="7.0" height="6.0" fill="#000"/><rect x="1633.7" y="3330.9" width="7.0" height="6.0" fill="#000"/><rect x="1633.3" y="3376.5" width="7.0" height="6.0" fill="#000"/><rect x="1632.9" y="3422.0" width="7.0" height="6.0" fill="#000"/><rect x="1632.5" y="3467.6" width="7.0" height="6.0" fill="#000"/><rect x="1632.0" y="3513.1" width="7.0" height="6.0" fill="#000"/><rect x="1631.6" y="3558.7" width="7.0" height="6.0" fill="#000"/><rect x="1631.2" y="3604.2" width="7.0" height="6.0" fill="#000"/><rect x="1630.8" y="3649.8" width="7.0" height="6.0" fill="#000"/><rect x="1630.4" y="3695.3" width="7.0" height="6.0" fill="#000"/><rect x="1630.0" y="3740.9" width="7.0" height="6.0" fill="#000"/><rect x="1629.5" y="3786.4" width="7.0" height="6.0" fill="#000"/><rect x="1629.1" y="3832.0" width="7.0" height="6.0" fill="#000"/><rect x="1628.7" y="3877.5" width="7.0" height="6.0" fill="#000"/><rect x="1628.3" y="3923.1" width="7.0" height="6.0" fill="#000"/><rect x="1627.9" y="3968.6" width="7.0" height="6.0" fill="#000"/><rect x="1627.4" y="4014.2" width="7.0" height="6.0" fill="#000"/><rect x="1627.0" y="4059.7" width="7.0" height="6.0" fill="#000"/><rect x="1626.6" y="4105.3" width="7.0" height="6.0" fill="#000"/><rect x="1626.2" y="4150.8" width="7.0" height="6.0" fill="#000"/><rect x="1625.8" y="4196.4" width="7.0" height="6.0" fill="#000"/><rect x="1625.3" y="4241.9" width="7.0" height="6.0" fill="#000"/><rect x="1624.9" y="4287.5" width="7.0" height="6.0" fill="#000"/><rect x="1624.5" y="4333.0" width="7.0" height="6.0" fill="#000"/><rect x="1616.5" y="3308.0" width="7.0" height="6.0" fill="#000"/><rect x="1616.3" y="3353.5" width="7.0" height="6.0" fill="#000"/><rect x="1616.1" y="3399.0" width="7.0" height="6.0" fill="#000"/><rect x="1615.9" y="3444.5" width="7.0" height="6.0" fill="#000"/><rect x="1615.7" y="3490.0" width="7.0" height="6.0" fill="#000"/><rect x="1615.5" y="3535.5" width="7.0" height="6.0" fill="#000"/><rect x="1615.3" y="3581.0" width="7.0" height="6.0" fill="#000"/><rect x="1615.1" y="3626.5" width="7.0" height="6.0" fill="#000"/><rect x="1614.9" y="3672.0" width="7.0" height="6.0" fill="#000"/><rect x="1614.7" y="3717.5" width="7.0" height="6.0" fill="#000"/><rect x="1614.5" y="3763.0" width="7.0" height="6.0" fill="#000"/><rect x="1614.3" y="3808.5" width="7.0" height="6.0" fill="#000"/><rect x="1614.2" y="3854.0" width="7.0" height="6.0" fill="#000"/><rect x="1614.0" y="3899.5" width="7.0" height="6.0" fill="#000"/><rect x="1613.8" y="3945.0" width="7.0" height="6.0" fill="#000"/><rect x="1613.6" y="3990.5" width="7.0" height="6.0" fill="#000"/><rect x="1613.4" y="4036.0" width="7.0" height="6.0" fill="#000"/><rect x="1613.2" y="4081.5" width="7.0" height="6.0" fill="#000"/><rect x="1613.0" y="4127.0" width="7.0" height="6.0" fill="#000"/><rect x="1612.8" y="4172.5" width="7.0" height="6.0" fill="#000"/><rect x="1612.6" y="4218.0" width="7.0" height="6.0" fill="#000"/><rect x="1612.4" y="4263.5" width="7.0" height="6.0" fill="#000"/><rect x="1612.2" y="4309.0" width="7.0" height="6.0" fill="#000"/><rect x="1773.0" y="3641.6" width="7.0" height="6.0" fill="#000"/><rect x="1771.7" y="3687.2" width="7.0" height="6.0" fill="#000"/><rect x="1770.4" y="3732.7" width="7.0" height="6.0" fill="#000"/><rect x="1769.0" y="3778.3" width="7.0" height="6.0" fill="#000"/><rect x="1767.7" y="3823.9" width="7.0" height="6.0" fill="#000"/><rect x="1766.4" y="3869.4" width="7.0" height="6.0" fill="#000"/><rect x="1765.1" y="3915.0" width="7.0" height="6.0" fill="#000"/><rect x="1763.7" y="3960.6" width="7.0" height="6.0" fill="#000"/><rect x="1762.4" y="4006.2" width="7.0" height="6.0" fill="#000"/><rect x="1761.1" y="4051.7" width="7.0" height="6.0" fill="#000"/><rect x="1759.8" y="4097.3" width="7.0" height="6.0" fill="#000"/><rect x="1758.4" y="4142.9" width="7.0" height="6.0" fill="#000"/><rect x="1757.1" y="4188.4" width="7.0" height="6.0" fill="#000"/><rect x="1755.8" y="4234.0" width="7.0" height="6.0" fill="#000"/><rect x="1895.6" y="104.0" width="275.4" height="384.0" fill="#000"/><rect x="1898.6" y="107.0" width="269.4" height="378.0" fill="#fff"/><rect x="1911.8" y="154.5" width="122.2" height="18.0" fill="#000"/><rect x="1911.8" y="248.0" width="122.2" height="18.0" fill="#ff0000"/><rect x="1911.8" y="341.0" width="122.2" height="18.0" fill="#0000ff"/><rect x="1911.8" y="434.0" width="122.2" height="18.0" fill="#ff00ff"/><rect x="1700.3" y="2544.5" width="489.0" height="418.8" fill="#000"/><rect x="1703.0" y="2547.2" width="483.6" height="413.4" fill="#fff"/><rect x="1739.6" y="2598.9" width="138.7" height="18.6" fill="#000"/><rect x="1739.6" y="2701.1" width="138.7" height="18.6" fill="#ff0000"/><rect x="1739.6" y="2802.7" width="138.7" height="18.6" fill="#0000ff"/><rect x="1739.6" y="2905.3" width="138.7" height="18.6" fill="#ff00ff"/><text transform="matrix(0.49032,0,0,0.70141,174.88,109.30)" font-size="100" font-family="'Liberation Sans', Arial, sans-serif" font-weight="normal" font-style="normal" fill="#000">160</text><text transform="matrix(0.49032,0,0,0.70141,174.88,492.70)" font-size="100" font-family="'Liberation Sans', Arial, sans-serif" font-weight="normal" font-style="normal" fill="#000">140</text><text transform="matrix(0.49032,0,0,0.70141,174.88,876.10)" font-size="100" font-family="'Liberation Sans', Arial, sans-serif" font-weight="normal" font-style="normal" fill="#000">120</text><text transform="matrix(0.49032,0,0,0.70141,174.88,1259.50)" font-size="100" font-family="'Liberation Sans', Arial, sans-serif" font-weight="normal" font-style="normal" fill="#000">100</text><text transform="matrix(0.51553,0,0,0.70141,199.64,1642.90)" font-size="100" font-family="'Liberation Sans', Arial, sans-serif" font-weight="normal" font-style="normal" fill="#000">80</text><text transform="matrix(0.52059,0,0,0.70141,199.10,2026.30)" font-size="100" font-family="'Liberation Sans', Arial, sans-serif" font-weight="normal" font-style="normal" fill="#000">60</text><text transform="matrix(0.67500,0,0,0.97042,303.98,2135.03)" font-size="100" font-family="'Liberation Sans', Arial, sans-serif" font-weight="bold" font-style="normal" fill="#000">550</text><text transform="matrix(0.67081,0,0,0.97042,650.60,2135.03)" font-size="100" font-family="'Liberation Sans', Arial, sans-serif" font-weight="bold" font-style="normal" fill="#000">825</text><text transform="matrix(0.70048,0,0,0.97042,977.82,2135.03)" font-size="100" font-family="'Liberation Sans', Arial, sans-serif" font-weight="bold" font-style="normal" fill="#000">1100</text><text transform="matrix(0.67757,0,0,0.97042,1324.56,2135.03)" font-size="100" font-family="'Liberation Sans', Arial, sans-serif" font-weight="bold" font-style="normal" fill="#000">1375</text><text transform="matrix(0.68396,0,0,0.97042,1671.14,2135.03)" font-size="100" font-family="'Liberation Sans', Arial, sans-serif" font-weight="bold" font-style="normal" fill="#000">1650</text><text transform="matrix(0.67757,0,0,0.97042,2017.78,2135.03)" font-size="100" font-family="'Liberation Sans', Arial, sans-serif" font-weight="bold" font-style="normal" fill="#000">1925</text><text transform="matrix(0.99456,0,0,1.31622,722.91,2271.98)" font-size="100" font-family="'Liberation Sans', Arial, sans-serif" font-weight="normal" font-style="normal" fill="#000">Wavenumber</text><text transform="matrix(0.88846,0,0,1.34255,1336.67,2271.81)" font-size="100" font-family="'Liberation Sans', Arial, sans-serif" font-weight="normal" font-style="normal" fill="#000">(</text><text transform="matrix(0.98211,0,0,1.31455,1369.27,2271.99)" font-size="100" font-family="'Liberation Sans', Arial, sans-serif" font-weight="normal" font-style="normal" fill="#000">cm</text><text transform="matrix(0.51250,0,0,0.84348,1499.95,2199.00)" font-size="100" font-family="'Liberation Sans', Arial, sans-serif" font-weight="normal" font-style="normal" fill="#000">-1</text><text transform="matrix(0.88462,0,0,1.33617,1559.12,2271.54)" font-size="100" font-family="'Liberation Sans', Arial, sans-serif" font-weight="normal" font-style="normal" fill="#000">)</text><text transform="matrix(0,-1.35720,0.98919,0,144.01,1587.23)" font-size="100" font-family="'Liberation Sans', Arial, sans-serif" font-weight="normal" font-style="normal" fill="#000">% Transmittance</text><text transform="matrix(1.45849,0,0,2.13636,341.32,297.16)" font-size="100" font-family="'Liberation Sans', Arial, sans-serif" font-weight="bold" font-style="normal" fill="#000">a</text><text transform="matrix(0.51962,0,0,0.72958,2047.92,188.07)" font-size="100" font-family="'Liberation Sans', Arial, sans-serif" font-weight="bold" font-style="normal" fill="#000">COP</text><text transform="matrix(0.52880,0,0,0.74348,2047.00,281.70)" font-size="100" font-family="'Liberation Sans', Arial, sans-serif" font-weight="bold" font-style="normal" fill="#000">PPY</text><text transform="matrix(0.52473,0,0,0.74348,2047.73,375.00)" font-size="100" font-family="'Liberation Sans', Arial, sans-serif" font-weight="bold" font-style="normal" fill="#000">PTH</text><text transform="matrix(0.51701,0,0,0.73380,2047.93,466.87)" font-size="100" font-family="'Liberation Sans', Arial, sans-serif" font-weight="bold" font-style="normal" fill="#000">GO</text><text transform="matrix(0.62518,0,0,0.80986,889.20,599.69)" font-size="100" font-family="'Liberation Sans', Arial, sans-serif" font-weight="bold" font-style="normal" fill="#000">C-O-C</text><text transform="matrix(0.80272,0,0,1.12676,1108.79,644.87)" font-size="100" font-family="'Liberation Sans', Arial, sans-serif" font-weight="bold" font-style="normal" fill="#000">GO</text><text transform="matrix(0.75269,0,0,1.06522,1106.73,897.00)" font-size="100" font-family="'Liberation Sans', Arial, sans-serif" font-weight="bold" font-style="normal" fill="#000">PTH</text><text transform="matrix(0.77487,0,0,1.10145,1126.58,1175.00)" font-size="100" font-family="'Liberation Sans', Arial, sans-serif" font-weight="bold" font-style="normal" fill="#000">PPY</text><text transform="matrix(0.76268,0,0,1.07042,1165.55,1660.93)" font-size="100" font-family="'Liberation Sans', Arial, sans-serif" font-weight="bold" font-style="normal" fill="#000">COP</text><text transform="matrix(0.56098,0,0,0.71831,595.76,1242.28)" font-size="100" font-family="'Liberation Sans', Arial, sans-serif" font-weight="bold" font-style="normal" fill="#000">C-S</text><text transform="matrix(0.61829,0,0,0.86901,1355.33,482.83)" font-size="100" font-family="'Liberation Sans', Arial, sans-serif" font-weight="bold" font-style="normal" fill="#000">C-O</text><text transform="matrix(0.63265,0,0,0.75915,1571.47,439.94)" font-size="100" font-family="'Liberation Sans', Arial, sans-serif" font-weight="bold" font-style="normal" fill="#000">C=C</text><text transform="matrix(0.64500,0,0,0.75352,1708.42,405.25)" font-size="100" font-family="'Liberation Sans', Arial, sans-serif" font-weight="bold" font-style="normal" fill="#000">C=O</text><text transform="matrix(0.63234,0,0,0.86620,1534.47,726.63)" font-size="100" font-family="'Liberation Sans', Arial, sans-serif" font-weight="bold" font-style="normal" fill="#000">C-N</text><text transform="matrix(0.60459,0,0,0.80282,1813.08,916.20)" font-size="100" font-family="'Liberation Sans', Arial, sans-serif" font-weight="bold" font-style="normal" fill="#000">C=C</text><text transform="matrix(0,-0.88830,0.69706,0,1017.61,990.11)" font-size="100" font-family="'Liberation Serif', 'Times New Roman', serif" font-weight="bold" font-style="normal" fill="#000">1062</text><text transform="matrix(0,-1.04255,0.82090,0,653.36,1974.26)" font-size="100" font-family="'Liberation Serif', 'Times New Roman', serif" font-weight="bold" font-style="normal" fill="#000">786</text><text transform="matrix(0,-0.83684,0.63971,0,1471.22,868.69)" font-size="100" font-family="'Liberation Serif', 'Times New Roman', serif" font-weight="bold" font-style="normal" fill="#000">1404</text><text transform="matrix(0,-0.88564,0.68676,0,1739.33,825.09)" font-size="100" font-family="'Liberation Serif', 'Times New Roman', serif" font-weight="bold" font-style="normal" fill="#000">1669</text><text transform="matrix(0,-0.90847,0.68382,0,1875.13,795.97)" font-size="100" font-family="'Liberation Serif', 'Times New Roman', serif" font-weight="bold" font-style="normal" fill="#000">1716</text><text transform="matrix(0,-0.98936,0.75522,0,1653.24,1990.91)" font-size="100" font-family="'Liberation Serif', 'Times New Roman', serif" font-weight="bold" font-style="normal" fill="#000">1555</text><text transform="matrix(0,-1.03704,0.79412,0,1893.41,1948.30)" font-size="100" font-family="'Liberation Serif', 'Times New Roman', serif" font-weight="bold" font-style="normal" fill="#000">1716</text><text transform="matrix(0.50000,0,0,0.70704,163.80,2567.59)" font-size="100" font-family="'Liberation Sans', Arial, sans-serif" font-weight="normal" font-style="normal" fill="#000">140</text><text transform="matrix(0.50000,0,0,0.70704,163.80,3017.09)" font-size="100" font-family="'Liberation Sans', Arial, sans-serif" font-weight="normal" font-style="normal" fill="#000">120</text><text transform="matrix(0.50000,0,0,0.70704,163.80,3466.59)" font-size="100" font-family="'Liberation Sans', Arial, sans-serif" font-weight="normal" font-style="normal" fill="#000">100</text><text transform="matrix(0.50583,0,0,0.70704,191.18,3916.09)" font-size="100" font-family="'Liberation Sans', Arial, sans-serif" font-weight="normal" font-style="normal" fill="#000">80</text><text transform="matrix(0.51078,0,0,0.70704,190.65,4365.59)" font-size="100" font-family="'Liberation Sans', Arial, sans-serif" font-weight="normal" font-style="normal" fill="#000">60</text><text transform="matrix(0.69182,0,0,0.97465,357.03,4588.03)" font-size="100" font-family="'Liberation Sans', Arial, sans-serif" font-weight="bold" font-style="normal" fill="#000">600</text><text transform="matrix(0.69182,0,0,0.97465,734.58,4588.03)" font-size="100" font-family="'Liberation Sans', Arial, sans-serif" font-weight="bold" font-style="normal" fill="#000">900</text><text transform="matrix(0.68868,0,0,0.97465,1094.27,4588.03)" font-size="100" font-family="'Liberation Sans', Arial, sans-serif" font-weight="bold" font-style="normal" fill="#000">1200</text><text transform="matrix(0.68868,0,0,0.97465,1471.82,4588.03)" font-size="100" font-family="'Liberation Sans', Arial, sans-serif" font-weight="bold" font-style="normal" fill="#000">1500</text><text transform="matrix(0.68868,0,0,0.97465,1849.37,4588.03)" font-size="100" font-family="'Liberation Sans', Arial, sans-serif" font-weight="bold" font-style="normal" fill="#000">1800</text><text transform="matrix(1.00595,0,0,1.34324,795.69,4726.96)" font-size="100" font-family="'Liberation Sans', Arial, sans-serif" font-weight="normal" font-style="normal" fill="#000">Wavenumber</text><text transform="matrix(0.93077,0,0,1.32766,1416.32,4725.92)" font-size="100" font-family="'Liberation Sans', Arial, sans-serif" font-weight="normal" font-style="normal" fill="#000">(</text><text transform="matrix(1.00000,0,0,1.32727,1448.90,4726.67)" font-size="100" font-family="'Liberation Sans', Arial, sans-serif" font-weight="normal" font-style="normal" fill="#000">cm</text><text transform="matrix(0.49875,0,0,0.85217,1583.01,4652.70)" font-size="100" font-family="'Liberation Sans', Arial, sans-serif" font-weight="normal" font-style="normal" fill="#000">-1</text><text transform="matrix(0.92308,0,0,1.33191,1638.98,4726.03)" font-size="100" font-family="'Liberation Sans', Arial, sans-serif" font-weight="normal" font-style="normal" fill="#000">)</text><text transform="matrix(0,-1.37745,1.01351,0,150.99,4002.21)" font-size="100" font-family="'Liberation Sans', Arial, sans-serif" font-weight="normal" font-style="normal" fill="#000">% Transmittance</text><text transform="matrix(1.42200,0,0,1.89589,316.95,2750.20)" font-size="100" font-family="'Liberation Sans', Arial, sans-serif" font-weight="bold" font-style="normal" fill="#000">b</text><text transform="matrix(0.58398,0,0,0.77838,1891.11,2635.62)" font-size="100" font-family="'Liberation Sans', Arial, sans-serif" font-weight="bold" font-style="normal" fill="#000">RGO/COP</text><text transform="matrix(0.58552,0,0,0.77027,1891.10,2737.63)" font-size="100" font-family="'Liberation Sans', Arial, sans-serif" font-weight="bold" font-style="normal" fill="#000">RGO/PTH</text><text transform="matrix(0.58434,0,0,0.77027,1891.11,2839.23)" font-size="100" font-family="'Liberation Sans', Arial, sans-serif" font-weight="bold" font-style="normal" fill="#000">RGO/PPY</text><text transform="matrix(0.59539,0,0,0.80282,1891.03,2941.70)" font-size="100" font-family="'Liberation Sans', Arial, sans-serif" font-weight="bold" font-style="normal" fill="#000">RGO</text><text transform="matrix(0.77926,0,0,1.09014,1224.25,3142.31)" font-size="100" font-family="'Liberation Sans', Arial, sans-serif" font-weight="bold" font-style="normal" fill="#000">RGO</text><text transform="matrix(0.77852,0,0,1.05135,1165.55,3410.45)" font-size="100" font-family="'Liberation Sans', Arial, sans-serif" font-weight="bold" font-style="normal" fill="#000">RGO/PPY</text><text transform="matrix(0.77873,0,0,1.04595,1141.35,3655.35)" font-size="100" font-family="'Liberation Sans', Arial, sans-serif" font-weight="bold" font-style="normal" fill="#000">RGO/PTH</text><text transform="matrix(0.75606,0,0,1.00946,983.41,4123.19)" font-size="100" font-family="'Liberation Sans', Arial, sans-serif" font-weight="bold" font-style="normal" fill="#000">RGO/COP</text><text transform="matrix(0.64512,0,0,0.93099,332.42,3791.67)" font-size="100" font-family="'Liberation Sans', Arial, sans-serif" font-weight="bold" font-style="normal" fill="#000">C-S</text><text transform="matrix(0.55915,0,0,0.77465,598.76,3734.23)" font-size="100" font-family="'Liberation Sans', Arial, sans-serif" font-weight="bold" font-style="normal" fill="#000">C-S</text><text transform="matrix(0.63713,0,0,0.86620,1519.05,3298.63)" font-size="100" font-family="'Liberation Sans', Arial, sans-serif" font-weight="bold" font-style="normal" fill="#000">C-N</text><text transform="matrix(0.55306,0,0,0.78732,1580.59,2898.91)" font-size="100" font-family="'Liberation Sans', Arial, sans-serif" font-weight="bold" font-style="normal" fill="#000">C=C</text><text transform="matrix(0.66480,0,0,0.91831,1702.34,3575.08)" font-size="100" font-family="'Liberation Sans', Arial, sans-serif" font-weight="bold" font-style="normal" fill="#000">C=C</text><text transform="matrix(0,-1.16434,0.87761,0,396.84,4244.66)" font-size="100" font-family="'Liberation Serif', 'Times New Roman', serif" font-weight="bold" font-style="normal" fill="#000">598</text><text transform="matrix(0,-1.06714,0.80448,0,628.89,4202.40)" font-size="100" font-family="'Liberation Serif', 'Times New Roman', serif" font-weight="bold" font-style="normal" fill="#000">790</text><text transform="matrix(0,-1.02000,0.73284,0,1695.87,4368.96)" font-size="100" font-family="'Liberation Serif', 'Times New Roman', serif" font-weight="bold" font-style="normal" fill="#000">1554</text><text transform="matrix(0,-0.99096,0.75735,0,1827.49,4292.73)" font-size="100" font-family="'Liberation Serif', 'Times New Roman', serif" font-weight="bold" font-style="normal" fill="#000">1672</text></svg></body></html>
